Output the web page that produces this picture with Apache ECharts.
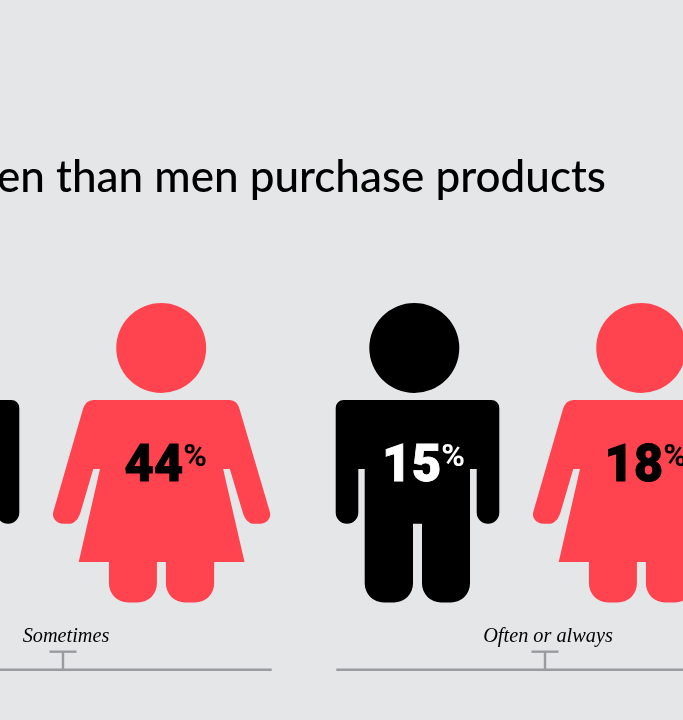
<!DOCTYPE html>
<html>
<head>
<meta charset="utf-8">
<style>html,body{margin:0;padding:0;background:#e5e6e8}#chart{width:683px;height:720px}</style>
<script src="https://cdn.jsdelivr.net/npm/echarts@6/dist/echarts.min.js"></script>
</head>
<body>
<div id="chart"></div>
<script>
// Share of respondents per purchase frequency
const frequencies = ['Sometimes', 'Often or always'];
const menValues = [null, 15];
const womenValues = [44, 18];
const headline = 'en than men purchase products';

const MAN_PATH = 'path://M33.6,45A45,45 0 1 1 123.6,45A45,45 0 1 1 33.6,45Z' +
  'M8,97H155.6A8,8 0 0 1 163.6,105V209.4A11.3,11.3 0 0 1 152.3,220.7A11.3,11.3 0 0 1 141,209.4V166H134.3' +
  'V280.5A19,19 0 0 1 115.3,299.5H105.3A19,19 0 0 1 86.3,280.5V220.7H77.3V280.5A19,19 0 0 1 58.3,299.5' +
  'H48A19,19 0 0 1 29,280.5V166H22.6V209.4A11.3,11.3 0 0 1 11.3,220.7A11.3,11.3 0 0 1 0,209.4V105A8,8 0 0 1 8,97Z';

const WOMAN_PATH = 'path://M63.3,45A45,45 0 1 1 153.3,45A45,45 0 1 1 63.3,45Z' +
  'M40.3,97H177Q184.5,97 187,107L217,208.7C219,215 214,220.7 207,220.7H200.3C195,220.7 191,214 189.7,208.7' +
  'L177,166H170.3L191.7,259H161.3V280.5A19,19 0 0 1 142.3,299.5H132A19,19 0 0 1 113,280.5V259H104V280.5' +
  'A19,19 0 0 1 85,299.5H75A19,19 0 0 1 56,280.5V259H25.7L47,166H40.3L27.7,208.7C26.4,214 22,220.7 17,220.7' +
  'H10.3C3.5,220.7 -1.5,215 0.3,208.7L29.7,107Q32.5,97 40.3,97Z';

const RED = '#ff4450';
const INK = '#000000';
const RULE = '#999b9f';

function percentLabel(color, dx) {
  return {
    show: true,
    position: 'inside',
    offset: [dx, 15],
    formatter: p => p.value[2] == null ? '' : '{n|' + p.value[2] + '}{p|%}',
    rich: {
      n: { fontFamily: 'Roboto', fontWeight: 900, fontSize: 51, color: color, lineHeight: 52, textBorderColor: color, textBorderWidth: 0.8 },
      p: { fontFamily: 'Roboto', fontWeight: 700, fontSize: 32, color: color, lineHeight: 44, verticalAlign: 'top' }
    }
  };
}

function peopleSeries(name, values, path, size, color, labelColor, shift, labelDx) {
  return {
    name,
    type: 'scatter',
    xAxisIndex: 0,
    yAxisIndex: 0,
    clip: false,
    silent: true,
    symbol: path,
    symbolSize: size,
    symbolOffset: [shift, 0],
    itemStyle: { color: color, opacity: 1 },
    label: percentLabel(labelColor, labelDx),
    data: values.map((v, i) => ({ value: [i, 0, v] }))
  };
}

const chart = echarts.init(document.getElementById('chart'), null, { renderer: 'canvas' });
chart.setOption({
  animation: false,
  backgroundColor: '#e5e6e8',
  title: {
    text: headline,
    left: -3,
    top: 156,
    padding: 0,
    textStyle: { fontFamily: 'Lato', fontWeight: 500, fontSize: 44, color: '#000000' }
  },
  grid: [
    { left: -190.45, width: 960, top: 303, height: 299.5, outerBoundsMode: 'none' },
    { left: -178, width: 964, top: 630, height: 39.7, outerBoundsMode: 'none' }
  ],
  xAxis: [
    { type: 'category', gridIndex: 0, data: frequencies, show: false },
    {
      type: 'category', gridIndex: 1, data: frequencies,
      axisLine: { show: false },
      axisTick: { show: false },
      axisLabel: {
        show: true, inside: true, interval: 0, margin: 23, hideOverlap: false,
        padding: [0, 0, 0, 6],
        fontFamily: 'Liberation Serif', fontStyle: 'italic', fontSize: 20.3, color: '#000000'
      }
    }
  ],
  yAxis: [
    { type: 'category', gridIndex: 0, data: ['People'], show: false },
    { type: 'value', gridIndex: 1, min: 0, max: 1, show: false }
  ],
  series: [
    peopleSeries('Men', menValues, MAN_PATH, [163.6, 299.5], INK, '#ffffff', -112.05, 6),
    peopleSeries('Women', womenValues, WOMAN_PATH, [217.3, 299.5], RED, INK, 112.05, 4),
    {
      type: 'custom',
      xAxisIndex: 1,
      yAxisIndex: 1,
      clip: false,
      silent: true,
      data: frequencies.map((f, i) => [i, 0]),
      renderItem: (params, api) => {
        const c = api.coord([api.value(0), 0]);
        const half = api.size([1, 0])[0] * 0.433;
        const style = { stroke: RULE, lineWidth: 2.4, fill: null };
        return {
          type: 'group',
          children: [
            { type: 'line', shape: { x1: c[0] - half, y1: c[1], x2: c[0] + half, y2: c[1] }, style },
            { type: 'line', shape: { x1: c[0], y1: c[1], x2: c[0], y2: c[1] - 18 }, style },
            { type: 'line', shape: { x1: c[0] - 13.5, y1: c[1] - 18, x2: c[0] + 13.5, y2: c[1] - 18 }, style }
          ]
        };
      }
    }
  ]
});
</script>
</body>
</html>
